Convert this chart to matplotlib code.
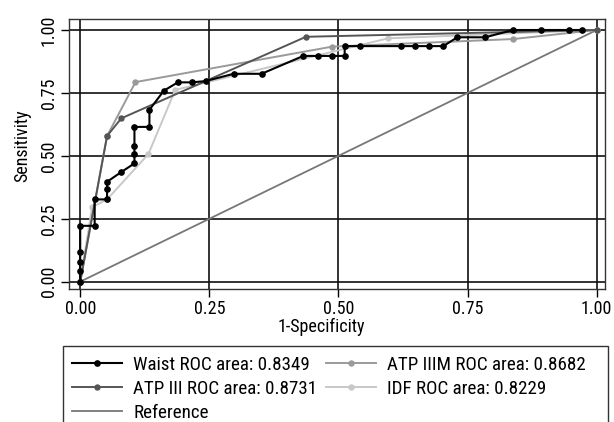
import matplotlib
matplotlib.use('Agg')
import matplotlib.pyplot as plt
from matplotlib.patches import Rectangle
from matplotlib.lines import Line2D

# 数据
waist_x = [0.0, 0.0, 0.0, 0.0, 0.0, 0.028, 0.028, 0.052, 0.052, 0.052, 0.079, 0.105, 0.105,
           0.105, 0.105, 0.134, 0.134, 0.162, 0.189, 0.216, 0.243, 0.297, 0.351, 0.432,
           0.461, 0.488, 0.512, 0.512, 0.541, 0.621, 0.649, 0.676, 0.703, 0.730, 0.784,
           0.838, 0.893, 0.946, 0.972]
waist_y = [0.0, 0.042, 0.079, 0.117, 0.222, 0.222, 0.327, 0.327, 0.367, 0.397, 0.435, 0.470,
           0.507, 0.540, 0.615, 0.615, 0.683, 0.759, 0.792, 0.792, 0.797, 0.826, 0.826,
           0.897, 0.897, 0.897, 0.897, 0.936, 0.936, 0.936, 0.936, 0.936, 0.936, 0.971,
           0.971, 1.0, 1.0, 1.0, 1.0]

atp3_x = [0.0, 0.052, 0.0795, 0.437, 1.0]
atp3_y = [0.0, 0.579, 0.649, 0.973, 1.0]

atp3m_x = [0.0, 0.052, 0.107, 0.488, 0.838, 1.0]
atp3m_y = [0.0, 0.579, 0.793, 0.934, 0.964, 1.0]

idf_x = [0.0, 0.023, 0.052, 0.132, 0.184, 0.596, 1.0]
idf_y = [0.0, 0.296, 0.327, 0.507, 0.762, 0.967, 1.0]

ref_x = [0.0, 1.0]
ref_y = [0.0, 1.0]

ticks = [0.0, 0.25, 0.5, 0.75, 1.0]
tick_labels = ['0.00', '0.25', '0.50', '0.75', '1.00']

names = ['Waist ROC area: 0.8349', 'ATP III ROC area: 0.8731',
         'ATP IIIM ROC area: 0.8682', 'IDF ROC area: 0.8229', 'Reference']

# 字体 (窄体)
plt.rcParams['font.family'] = ['Roboto Condensed', 'DejaVu Sans']

W, H = 614, 422
fig = plt.figure(figsize=(W / 100, H / 100), dpi=100)
ax = fig.add_axes([69 / W, 1 - 289.3 / H, (605 - 69) / W, (289.3 - 19) / H])

ax.set_xlim(-0.0217, 1.016)
ax.set_ylim(-0.0302, 1.0437)

for t in ticks:
    ax.axhline(t, color='#111111', lw=1.2, zorder=1)
    ax.axvline(t, color='#111111', lw=1.2, zorder=1)

ax.plot(ref_x, ref_y, color='#777777', lw=1.3, zorder=2)
ax.plot(idf_x, idf_y, color='#c8c8c8', lw=1.4, marker='o', ms=3.6, zorder=3)
ax.plot(atp3m_x, atp3m_y, color='#9a9a9a', lw=1.4, marker='o', ms=3.6, zorder=4)
ax.plot(atp3_x, atp3_y, color='#555555', lw=1.4, marker='o', ms=3.6, zorder=5)
ax.plot(waist_x, waist_y, color='black', lw=1.5, marker='o', ms=3.8, zorder=6)

ax.set_xticks(ticks)
ax.set_xticklabels(tick_labels)
ax.set_yticks(ticks)
ax.set_yticklabels(tick_labels, rotation=90, va='center')
ax.tick_params(direction='out', length=6, width=1, labelsize=13, pad=2)

for s in ax.spines.values():
    s.set_color('#333333')
    s.set_linewidth(1)

ax.set_xlabel('1-Specificity', fontsize=13)
ax.xaxis.set_label_coords(0.471, -0.106)
ax.set_ylabel('Sensitivity', fontsize=13)
ax.yaxis.set_label_coords(-0.071, 0.531)

# 图例
handles = [
    Line2D([], [], color='black', lw=1.5, marker='o', ms=3.8),
    Line2D([], [], color='#555555', lw=1.4, marker='o', ms=3.6),
    Line2D([], [], color='#777777', lw=1.3),
    Line2D([], [], color='#9a9a9a', lw=1.4, marker='o', ms=3.6),
    Line2D([], [], color='#c8c8c8', lw=1.4, marker='o', ms=3.6),
]
labels = [names[0], names[1], names[4], names[2], names[3]]
leg = fig.legend(handles, labels, ncol=2, loc='upper left',
                 bbox_to_anchor=(66.5 / W, 1 - 350 / H), frameon=False,
                 fontsize=13.7, handlelength=2.63, handletextpad=0.58,
                 columnspacing=0.46, labelspacing=0.32, borderpad=0.3,
                 borderaxespad=0)
fig.add_artist(Rectangle((63 / W, -0.05), (608 - 63) / W, (1 - 346 / H) + 0.05,
                         transform=fig.transFigure, fill=False,
                         edgecolor='#333333', lw=1))

fig.savefig('out.png', dpi=100)
